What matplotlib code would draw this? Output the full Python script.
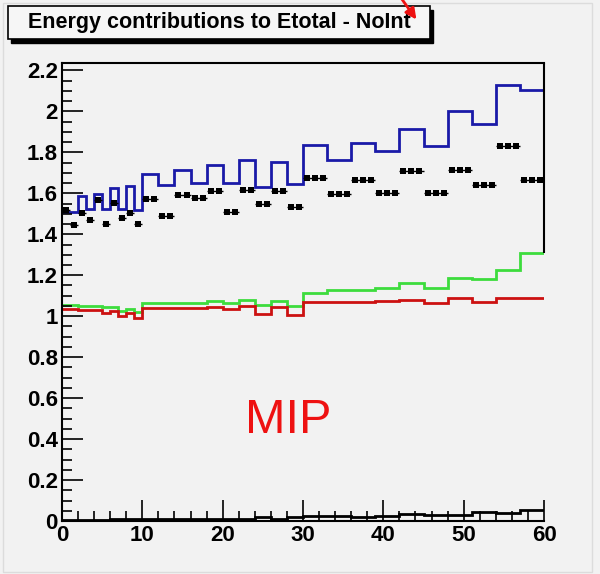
import matplotlib.pyplot as plt
import numpy as np
from matplotlib.patches import Rectangle, FancyArrowPatch

# variable bin edges: width 1 up to 10, width 2 up to 30, width 3 up to 60
edges = [0, 1, 2, 3, 4, 5, 6, 7, 8, 9, 10,
         12, 14, 16, 18, 20, 22, 24, 26, 28, 30,
         33, 36, 39, 42, 45, 48, 51, 54, 57, 60]

total = [1.509, 1.509, 1.585, 1.525, 1.598, 1.525, 1.628, 1.525, 1.634, 1.517,
         1.696, 1.639, 1.715, 1.650, 1.737, 1.650, 1.764, 1.631, 1.751, 1.644,
         1.834, 1.764, 1.845, 1.805, 1.915, 1.831, 2.000, 1.940, 2.130, 2.106]

points = [1.517, 1.447, 1.504, 1.468, 1.566, 1.452, 1.553, 1.481, 1.504, 1.452,
          1.574, 1.488, 1.594, 1.577, 1.611, 1.509, 1.618, 1.546, 1.611, 1.533,
          1.677, 1.598, 1.663, 1.603, 1.707, 1.603, 1.712, 1.639, 1.829, 1.663]

green = [1.057, 1.057, 1.049, 1.049, 1.049, 1.046, 1.046, 1.024, 1.033, 1.021,
         1.065, 1.065, 1.065, 1.065, 1.073, 1.065, 1.081, 1.054, 1.075, 1.049,
         1.114, 1.127, 1.127, 1.138, 1.163, 1.140, 1.187, 1.180, 1.224, 1.309]

red = [1.037, 1.037, 1.029, 1.029, 1.029, 1.018, 1.026, 1.000, 1.016, 0.989,
       1.041, 1.041, 1.041, 1.041, 1.046, 1.033, 1.050, 1.013, 1.043, 1.005,
       1.070, 1.070, 1.070, 1.075, 1.081, 1.065, 1.091, 1.067, 1.091, 1.091]

small = [0.005, 0.005, 0.005, 0.005, 0.005, 0.005, 0.010, 0.010, 0.010, 0.010,
         0.010, 0.010, 0.010, 0.010, 0.010, 0.010, 0.010, 0.018, 0.010, 0.018,
         0.024, 0.024, 0.018, 0.024, 0.033, 0.027, 0.029, 0.042, 0.037, 0.054]

bg = '#f2f2f2'
plt.rcParams['font.family'] = ['Liberation Sans', 'DejaVu Sans']

fig = plt.figure(figsize=(6.0, 5.74), dpi=100, facecolor=bg)
ax = fig.add_axes([0.1033, 0.0923, 0.8034, 0.7979], facecolor=bg)

lw = 2.0
ax.stairs(green, edges, color='#3ddc3d', lw=lw, baseline=None)
ax.stairs(red, edges, color='#cc1111', lw=lw, baseline=None)
ax.stairs(total, edges, color='#1a1aa8', lw=lw, baseline=None)
ax.stairs(small, edges, color='black', lw=lw, baseline=None)

# markers: one square per unit inside each bin, with a bar spanning the bin
for lo, hi, v in zip(edges[:-1], edges[1:], points):
    ax.hlines(v, lo, hi, color='black', lw=1)
    xs = np.arange(lo, hi) + 0.5
    ax.plot(xs, [v] * len(xs), 's', color='black', ms=3.9, mew=0)

ax.set_xlim(0, 60)
ax.set_ylim(0, 2.236)

ax.set_xticks(np.arange(0, 61, 10))
ax.set_xticks(np.arange(0, 61, 2), minor=True)
yt = np.arange(0, 2.21, 0.2)
ax.set_yticks(yt)
ax.set_yticks(np.arange(0, 2.21, 0.05), minor=True)
ax.set_yticklabels(['%g' % round(t, 1) for t in yt])

ax.tick_params(which='both', direction='in', top=False, right=False,
               labelsize=16, width=1.2, colors='black')
ax.tick_params(which='major', length=15)
ax.tick_params(which='minor', length=7)
ax.tick_params(axis='x', pad=3)
ax.tick_params(axis='y', pad=3)
for lab in ax.get_xticklabels() + ax.get_yticklabels():
    lab.set_fontweight('bold')

for side in ['left', 'bottom', 'top']:
    ax.spines[side].set_linewidth(1.5)
ax.spines['right'].set_visible(False)
ax.vlines(60, green[-1], 2.236, color='black', lw=1.5, clip_on=False)

ax.text(28.2, 0.49, 'MIP', color='#ee1111', fontsize=35, ha='center', va='center')

# title box with drop shadow
fig.patches.append(Rectangle((0.0183, 0.925), 0.7033, 0.0575, transform=fig.transFigure,
                             facecolor='black', edgecolor='black', zorder=1))
fig.patches.append(Rectangle((0.0133, 0.932), 0.7033, 0.0575, transform=fig.transFigure,
                             facecolor='#f6f6f6', edgecolor='black', lw=1.2, zorder=2))
fig.text(0.365, 0.9605, 'Energy contributions to Etotal - NoInt', fontsize=15.5,
         fontweight='bold', ha='center', va='center', zorder=3)

fig.patches.append(Rectangle((0.005, 0.004), 0.982, 0.99, transform=fig.transFigure,
                             facecolor='none', edgecolor='#dcdcdc', lw=1, zorder=0))

# red pointer arrow onto the title box
fig.add_artist(FancyArrowPatch((0.664, 1.01), (0.694, 0.966), transform=fig.transFigure,
                               arrowstyle='-|>', color='#ee1111', lw=2,
                               mutation_scale=16, shrinkA=0, shrinkB=0, zorder=6))

fig.savefig('out.png', dpi=100, facecolor=bg)
